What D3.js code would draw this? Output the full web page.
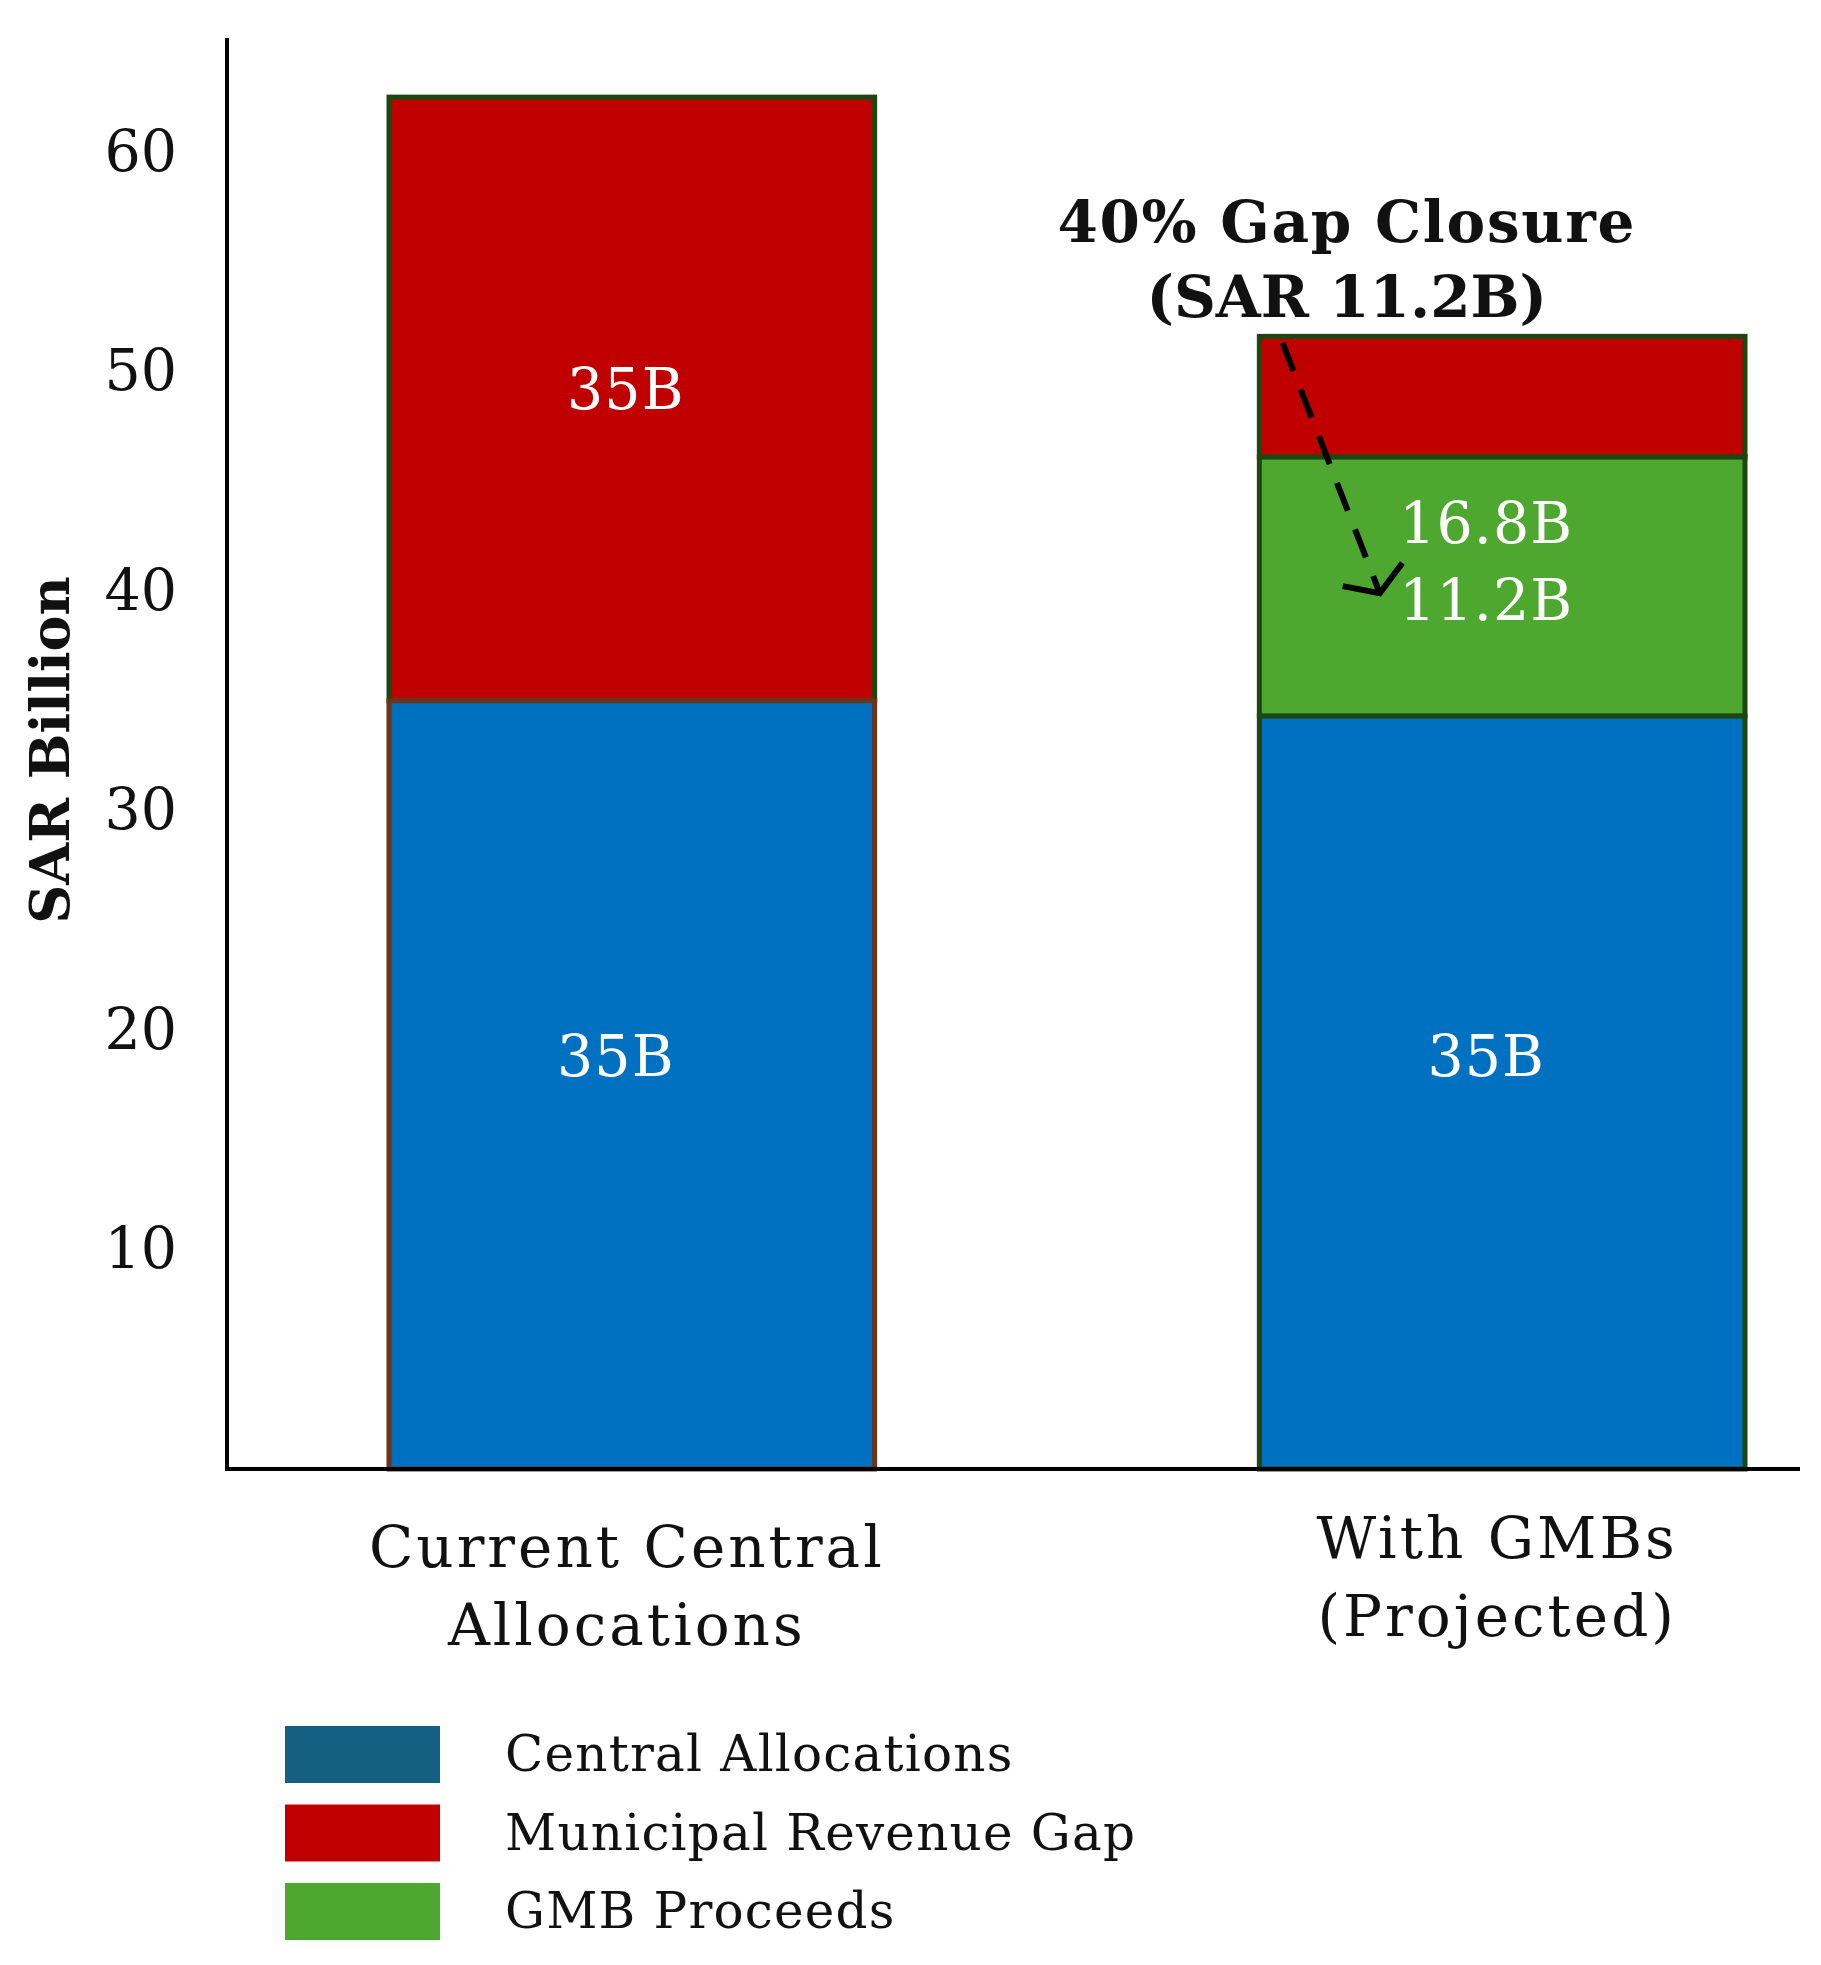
<!DOCTYPE html>
<html lang="en">
<head>
    <meta charset="UTF-8">
    <title>Central allocations vs GMBs</title>
    <script src="https://d3js.org/d3.v7.min.js"></script>
    <style>
        body {
            margin: 0;
            background: #fff;
        }
        svg {
            display: block;
            font-family: "DejaVu Serif", serif;
        }
        .tick text {
            fill: #111;
        }
    </style>
</head>
<body>
    <div id="chart"></div>
    <script>
        const width = 1821;
        const height = 1965;

        // data
        const categories = ["Current Central Allocations", "With GMBs (Projected)"];
        const categoryLines = [["Current Central", "Allocations"], ["With GMBs", "(Projected)"]];
        const seriesNames = ["Central Allocations", "Municipal Revenue Gap", "GMB Proceeds"];
        const centralValues = [35, 34.3];
        const gmbValues = [0, 11.8];
        const gapValues = [27.5, 5.5];
        const yTicks = [10, 20, 30, 40, 50, 60];

        // value labels inside the bars (text, bar index, height in SAR bn)
        const labelTexts = ["35B", "35B", "35B", "16.8B", "11.2B"];
        const labelCats = [0, 0, 1, 1, 1];
        const labelAt = [49.2, 18.8, 18.8, 43.1, 39.6];
        const labelShift = [-6, -16, -16, -16, -16];

        // arrow of the annotation, in SAR bn
        const arrowFrom = 51.3;
        const arrowTo = 39.9;
        const noteLines = ["40% Gap Closure", "(SAR 11.2B)"];
        const noteAt = [56.8, 53.4];

        const colors = {
            "Central Allocations": "#0070c0",
            "Municipal Revenue Gap": "#c00000",
            "GMB Proceeds": "#4ea72e"
        };
        const legendColors = ["#156082", "#c00000", "#4ea72e"];

        const rows = categories.map((c, i) => ({
            cat: c,
            "Central Allocations": centralValues[i],
            "GMB Proceeds": gmbValues[i],
            "Municipal Revenue Gap": gapValues[i]
        }));

        const svg = d3.select("#chart").append("svg")
            .attr("width", width)
            .attr("height", height);

        const x = d3.scaleBand()
            .domain(categories)
            .range([389, 1745])
            .paddingInner(0.442);

        const y = d3.scaleLinear()
            .domain([0, 60])
            .range([1469, 152]);

        const stack = d3.stack()
            .keys(["Central Allocations", "GMB Proceeds", "Municipal Revenue Gap"]);
        const layers = stack(rows);

        // top segments first so lower segments' outline lies on top
        const layerG = svg.append("g")
            .selectAll("g")
            .data(layers.slice().reverse())
            .join("g")
            .attr("fill", d => colors[d.key]);

        layerG.selectAll("rect")
            .data(d => d.map(s => ({ key: d.key, s: s })))
            .join("rect")
            .filter(d => d.s[1] - d.s[0] > 0)
            .attr("x", d => x(d.s.data.cat))
            .attr("width", x.bandwidth())
            .attr("y", d => y(d.s[1]))
            .attr("height", d => y(d.s[0]) - y(d.s[1]))
            .attr("stroke", d => (d.key === "Central Allocations" && d.s.data.cat === categories[0]) ? "#6b3518" : "#1d4711")
            .attr("stroke-width", 5);

        // axes
        const yAxis = d3.axisLeft(y)
            .tickValues(yTicks)
            .tickSize(0)
            .tickPadding(50);

        svg.append("g")
            .attr("transform", "translate(227,0)")
            .call(yAxis)
            .call(g => g.select(".domain").remove())
            .selectAll("text")
            .attr("font-size", 57)
            .attr("font-family", "DejaVu Serif, serif");

        svg.append("line")
            .attr("x1", 227).attr("x2", 227)
            .attr("y1", 38).attr("y2", y(0))
            .attr("stroke", "#000")
            .attr("stroke-width", 4);

        svg.append("line")
            .attr("x1", 225).attr("x2", 1800)
            .attr("y1", y(0)).attr("y2", y(0))
            .attr("stroke", "#000")
            .attr("stroke-width", 4);

        svg.append("text")
            .attr("transform", "translate(50,750) rotate(-90)")
            .attr("text-anchor", "middle")
            .attr("dominant-baseline", "central")
            .attr("font-size", 54)
            .attr("font-weight", "bold")
            .attr("fill", "#111")
            .text("SAR Billion");

        // category labels
        const catG = svg.append("g")
            .selectAll("text")
            .data(categories)
            .join("text")
            .attr("text-anchor", "middle")
            .attr("font-size", 58)
            .attr("letter-spacing", 3)
            .attr("fill", "#111")
            .attr("x", d => x(d) + x.bandwidth() / 2 - 5)
            .attr("y", (d, i) => i === 0 ? 1567 : 1558);

        catG.selectAll("tspan")
            .data((d, i) => categoryLines[i])
            .join("tspan")
            .attr("x", function () { return this.parentNode.getAttribute("x"); })
            .attr("dy", (d, i) => i === 0 ? 0 : 78)
            .text(d => d);

        // value labels
        svg.append("g")
            .selectAll("text")
            .data(labelTexts)
            .join("text")
            .attr("x", (d, i) => x(categories[labelCats[i]]) + x.bandwidth() / 2 + labelShift[i])
            .attr("y", (d, i) => y(labelAt[i]))
            .attr("text-anchor", "middle")
            .attr("dominant-baseline", "central")
            .attr("font-size", 57)
            .attr("letter-spacing", 1)
            .attr("fill", "#fff")
            .text(d => d);

        // annotation
        const bx = x(categories[1]);
        const bw = x.bandwidth();

        svg.append("defs").append("marker")
            .attr("id", "head")
            .attr("markerUnits", "userSpaceOnUse")
            .attr("viewBox", "-40 -40 50 80")
            .attr("refX", 0).attr("refY", 0)
            .attr("markerWidth", 50).attr("markerHeight", 80)
            .attr("orient", "auto")
            .append("path")
            .attr("d", "M-20,-32 L0,0 L-20,32")
            .attr("fill", "none")
            .attr("stroke", "#000")
            .attr("stroke-width", 6);

        svg.append("line")
            .attr("x1", bx + bw * 0.048)
            .attr("y1", y(arrowFrom))
            .attr("x2", bx + bw * 0.248)
            .attr("y2", y(arrowTo))
            .attr("stroke", "#000")
            .attr("stroke-width", 6)
            .attr("stroke-dasharray", "30,20")
            .attr("marker-end", "url(#head)");

        svg.append("g")
            .selectAll("text")
            .data(noteLines)
            .join("text")
            .attr("x", bx + bw * 0.18)
            .attr("y", (d, i) => y(noteAt[i]))
            .attr("text-anchor", "middle")
            .attr("dominant-baseline", "central")
            .attr("font-size", 58)
            .attr("font-weight", "bold")
            .attr("letter-spacing", (d, i) => i === 0 ? 1.7 : 0)
            .attr("fill", "#111")
            .text(d => d);

        // legend
        const legend = svg.append("g")
            .attr("transform", "translate(285,1726)");

        const item = legend.selectAll("g")
            .data(seriesNames)
            .join("g")
            .attr("transform", (d, i) => `translate(0, ${i * 78.5})`);

        item.append("rect")
            .attr("width", 155)
            .attr("height", 57)
            .attr("fill", (d, i) => legendColors[i]);

        item.append("text")
            .attr("x", 220)
            .attr("y", 28)
            .attr("dominant-baseline", "central")
            .attr("font-size", 50)
            .attr("letter-spacing", 1.2)
            .attr("fill", "#111")
            .text(d => d);
    </script>
</body>
</html>
